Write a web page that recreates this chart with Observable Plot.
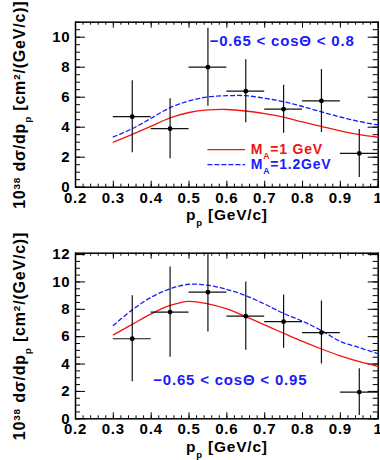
<!DOCTYPE html>
<html>
<head>
<meta charset="utf-8">
<script src="https://cdn.jsdelivr.net/npm/d3@7"></script>
<script src="https://cdn.jsdelivr.net/npm/@observablehq/plot@0.6"></script>
<style>
  html, body { margin: 0; padding: 0; background: white; }
  #chart { width: 380px; }
  #chart svg { display: block; }
</style>
</head>
<body>
<div id="chart"></div>
<script>
// ---- data ----
const binCenter = [0.35, 0.45, 0.55, 0.65, 0.75, 0.85, 0.95];
const binLow    = [0.30, 0.40, 0.50, 0.60, 0.70, 0.80, 0.90];
const binHigh   = [0.40, 0.50, 0.60, 0.70, 0.80, 0.90, 1.00];

const topData = [4.7, 3.9, 8.0, 6.4, 5.2, 5.75, 2.25];
const topErr  = [2.4, 2.0, 2.6, 2.1, 1.6, 2.1, 1.6];
const botData = [5.85, 7.8, 9.25, 7.5, 7.1, 6.3, 1.95];
const botErr  = [3.15, 3.3, 2.9, 2.5, 1.95, 2.3, 1.7];

const curveP = [0.30, 0.35, 0.40, 0.45, 0.50, 0.55, 0.60, 0.65, 0.70, 0.75, 0.80, 0.85, 0.90, 0.95, 1.00];
const topMA1  = [3.0, 3.52, 4.07, 4.62, 4.98, 5.15, 5.18, 5.08, 4.9, 4.67, 4.35, 4.05, 3.75, 3.5, 3.33];
const topMA12 = [3.35, 3.9, 4.6, 5.3, 5.75, 6.02, 6.1, 6.1, 5.93, 5.7, 5.38, 5.02, 4.68, 4.38, 4.15];
const botMA1  = [6.13, 6.9, 7.67, 8.28, 8.58, 8.4, 8.03, 7.47, 6.86, 6.25, 5.65, 5.1, 4.6, 4.17, 3.82];
const botMA12 = [6.82, 7.96, 8.88, 9.5, 9.83, 9.76, 9.45, 9.0, 8.38, 7.7, 7.13, 6.45, 5.65, 5.2, 4.75];

const xTicks = [0.2, 0.3, 0.4, 0.5, 0.6, 0.7, 0.8, 0.9, 1.0];
const xTickLabels = ["0.2", "0.3", "0.4", "0.5", "0.6", "0.7", "0.8", "0.9", "1"];
const topYTicks = [0, 2, 4, 6, 8, 10];
const botYTicks = [0, 2, 4, 6, 8, 10, 12];

const yLabel = "10^{38} dσ/dp_{p} [cm^{2}/(GeV/c)]";
const xLabel = "p_{p} [GeV/c]";
const legendLabels = ["M_{A}=1 GeV", "M_{A}=1.2GeV"];
const topRegion = "−0.65 < cosΘ < 0.8";
const botRegion = "−0.65 < cosΘ < 0.95";

// legend placement (in data coords of the top panel)
const legendX = [0.55, 0.647];
const legendTextX = 0.663;
const legendY = [2.5, 1.5];

const RED = "#f01414";
const BLUE = "#1a1aff";
const FONT = "'Liberation Sans', Arial, sans-serif";

function rich(s) {
  return s.replace(/\^\{([^}]*)\}/g, '<tspan baseline-shift="super" font-size="62%">$1</tspan>')
          .replace(/_\{([^}]*)\}/g, '<tspan baseline-shift="sub" font-size="62%">$1</tspan>');
}

function range(a, b, step) {
  const out = [];
  const n = Math.round((b - a) / step);
  for (let i = 0; i <= n; i++) out.push(+(a + i * step).toFixed(4));
  return out;
}

function panel({data, err, ma1, ma12, yMax, yTicks, mTop, mBottom, region, regionX, regionY, legend}) {
  const W = 380, H = 230, mLeft = 75, mRight = 2.3;
  const fw = W - mLeft - mRight, fh = H - mTop - mBottom;
  const xMinor = range(0.2, 1.0, 0.02);
  const yMinor = range(0, Math.floor(yMax * 2) / 2, 0.5);
  const pts = binCenter.map((p, i) => ({p, lo: binLow[i], hi: binHigh[i], v: data[i], e: err[i]}));
  const c1 = curveP.map((p, i) => ({p, v: ma1[i]}));
  const c2 = curveP.map((p, i) => ({p, v: ma12[i]}));
  const tickStyle = {stroke: "black", strokeWidth: 1};
  const marks = [
    // inward ticks
    Plot.tickX(xMinor, {x: d => d, insetTop: fh - 3, ...tickStyle}),
    Plot.tickX(xTicks, {x: d => d, insetTop: fh - 6, ...tickStyle}),
    Plot.tickX(xMinor, {x: d => d, insetBottom: fh - 3, ...tickStyle}),
    Plot.tickX(xTicks, {x: d => d, insetBottom: fh - 6, ...tickStyle}),
    Plot.tickY(yMinor, {y: d => d, insetRight: fw - 5, ...tickStyle}),
    Plot.tickY(yTicks, {y: d => d, insetRight: fw - 10, ...tickStyle}),
    Plot.tickY(yMinor, {y: d => d, insetLeft: fw - 5, ...tickStyle}),
    Plot.tickY(yTicks, {y: d => d, insetLeft: fw - 10, ...tickStyle}),
    Plot.frame({stroke: "black", strokeWidth: 1.5}),
    // theory curves
    Plot.line(c2, {x: "p", y: "v", stroke: BLUE, strokeWidth: 1.3, strokeDasharray: "4,3", curve: "catmull-rom"}),
    Plot.line(c1, {x: "p", y: "v", stroke: RED, strokeWidth: 1.3, curve: "catmull-rom"}),
    // data with error bars
    Plot.ruleY(pts, {y: "v", x1: "lo", x2: "hi", stroke: "#111", strokeWidth: 1.2}),
    Plot.ruleX(pts, {x: "p", y1: d => d.v - d.e, y2: d => d.v + d.e, stroke: "#111", strokeWidth: 1.2, clip: true}),
    Plot.dot(pts, {x: "p", y: "v", r: 2.4, fill: "black", stroke: "none"}),
    // region annotation
    Plot.text([region], {x: regionX, y: regionY, text: d => d, fill: BLUE, fontSize: 15, fontWeight: "bold", textAnchor: "middle"}),
    // axis titles
    Plot.text([yLabel], {frameAnchor: "left", dx: -56, rotate: -90, text: d => d, fontSize: 16, fill: "black", textAnchor: "middle"}),
    Plot.text([xLabel], {frameAnchor: "bottom", dy: 33, text: d => d, fontSize: 15.5, fill: "black", textAnchor: "middle"})
  ];
  if (legend) {
    const leg = [
      {label: legendLabels[0], color: RED, dash: null, y: legendY[0]},
      {label: legendLabels[1], color: BLUE, dash: "4,3", y: legendY[1]}
    ];
    leg.forEach(l => {
      marks.push(Plot.line(legendX.map(x => ({x, y: l.y})), {x: "x", y: "y", stroke: l.color, strokeWidth: 1.3, strokeDasharray: l.dash}));
      marks.push(Plot.text([l.label], {x: legendTextX, y: l.y, text: d => d, fill: l.color, fontSize: 14, fontWeight: "bold", textAnchor: "start"}));
    });
  }
  const svg = Plot.plot({
    width: W, height: H,
    marginLeft: mLeft, marginRight: mRight, marginTop: mTop, marginBottom: mBottom,
    style: {fontFamily: FONT, fontSize: "15px", fontWeight: "bold", letterSpacing: "0.8px", background: "white", color: "black", overflow: "visible"},
    x: {domain: [0.2, 1.0], ticks: xTicks, tickFormat: (d, i) => xTickLabels[xTicks.indexOf(d)], tickSize: 0, tickPadding: 5, label: null},
    y: {domain: [0, yMax], ticks: yTicks, tickSize: 0, tickPadding: 5, label: null},
    marks
  });
  svg.querySelectorAll("text").forEach(t => {
    if (t.children.length === 0 && /[\^_]\{/.test(t.textContent)) t.innerHTML = rich(t.textContent);
  });
  return svg;
}

const root = document.getElementById("chart");
root.appendChild(panel({
  data: topData, err: topErr, ma1: topMA1, ma12: topMA12,
  yMax: 11, yTicks: topYTicks, mTop: 21.7, mBottom: 43.3,
  region: topRegion, regionX: 0.746, regionY: 9.75, legend: true
}));
root.appendChild(panel({
  data: botData, err: botErr, ma1: botMA1, ma12: botMA12,
  yMax: 12.1, yTicks: botYTicks, mTop: 22.7, mBottom: 41.7,
  region: botRegion, regionX: 0.609, regionY: 2.8, legend: false
}));
</script>
</body>
</html>
